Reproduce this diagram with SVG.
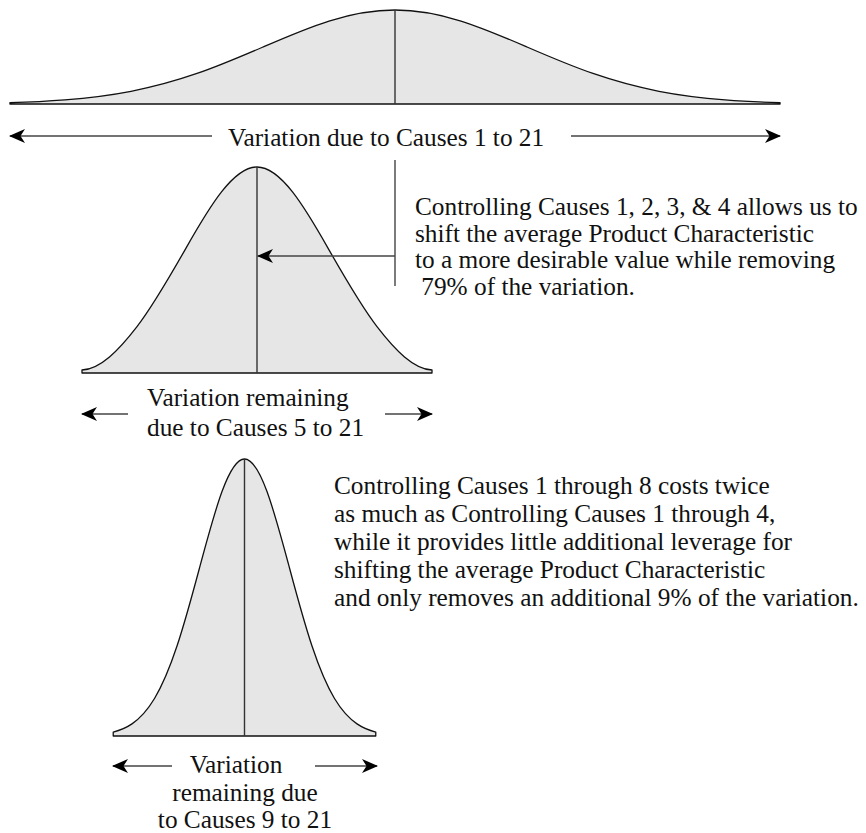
<svg xmlns="http://www.w3.org/2000/svg" width="866" height="833" viewBox="0 0 866 833">
<style>
.bg{fill:#ffffff}
.curve{fill:#e6e6e6;stroke:#111;stroke-width:1.3;vector-effect:non-scaling-stroke;stroke-linejoin:round}
.axis{stroke:#333;stroke-width:1.4;fill:none}
.conn{stroke:#444;stroke-width:1.4;fill:none}
.t{font-family:"Liberation Serif","Times New Roman",serif;font-size:25.3px;fill:#111}
</style>
<defs>
<marker id="ah" markerUnits="userSpaceOnUse" markerWidth="16" markerHeight="14" refX="15" refY="7" orient="auto-start-reverse" viewBox="0 0 16 14">
<path d="M0,0 L16,7 L0,14 L4.5,7 Z" fill="#000"/>
</marker>
</defs>
<rect class="bg" x="0" y="0" width="866" height="833"/>

<g id="curve-all">
<path class="curve" vector-effect="non-scaling-stroke" transform="translate(395 104) scale(132 -94)" d="M -2.917 0 L -2.917 .0142 C -2.778 .0200 -2.639 .0286 -2.5 .0439 C -2.3333 .0622 -2.1667 .0902 -2 .1353 C -1.8333 .1804 -1.6667 .2435 -1.5 .3247 C -1.3333 .4059 -1.1667 .5054 -1 .6065 C -.8333 .7076 -.6667 .8090 -.5 .8825 C -.3333 .9560 -.1667 1 0 1 C .1667 1 .3333 .9560 .5 .8825 C .6667 .8090 .8333 .7076 1 .6065 C 1.1667 .5054 1.3333 .4059 1.5 .3247 C 1.6667 .2435 1.8333 .1804 2 .1353 C 2.1667 .0902 2.3333 .0622 2.5 .0439 C 2.639 .0286 2.778 .0200 2.917 .0142 L 2.917 0 Z"/>
<line class="axis" x1="395" y1="10" x2="395" y2="104"/>
</g>

<g id="curve-1to4">
<path class="curve" d="M 82 373 L 82 370 C 100.33 369.1 118.67 350.4 137 326.6 C 153.33 305.4 169.67 276.8 186 248.1 C 209.67 206.4 233.33 167 257 167 C 280.67 167 304.33 206.4 328 248.1 C 344.33 276.8 360.67 305.4 377 326.6 C 395.33 350.4 413.67 369.1 432 370 L 432 373 Z"/>
<line class="axis" x1="257" y1="167" x2="257" y2="373"/>
</g>

<g id="curve-1to8">
<path class="curve" vector-effect="non-scaling-stroke" transform="translate(244.5 736) scale(45 -277)" d="M -2.917 0 L -2.917 .0142 C -2.778 .0200 -2.639 .0286 -2.5 .0439 C -2.3333 .0622 -2.1667 .0902 -2 .1353 C -1.8333 .1804 -1.6667 .2435 -1.5 .3247 C -1.3333 .4059 -1.1667 .5054 -1 .6065 C -.8333 .7076 -.6667 .8090 -.5 .8825 C -.3333 .9560 -.1667 1 0 1 C .1667 1 .3333 .9560 .5 .8825 C .6667 .8090 .8333 .7076 1 .6065 C 1.1667 .5054 1.3333 .4059 1.5 .3247 C 1.6667 .2435 1.8333 .1804 2 .1353 C 2.1667 .0902 2.3333 .0622 2.5 .0439 C 2.639 .0286 2.778 .0200 2.917 .0142 L 2.917 0 Z"/>
<line class="axis" x1="244.5" y1="459" x2="244.5" y2="736"/>
</g>

<g id="connectors">
<line class="conn" x1="212" y1="136" x2="10" y2="136" marker-end="url(#ah)"/>
<line class="conn" x1="571" y1="136" x2="780" y2="136" marker-end="url(#ah)"/>
<polyline class="conn" points="395,160 395,286"/>
<line class="conn" x1="395" y1="256" x2="258" y2="256" marker-end="url(#ah)"/>
<line class="conn" x1="128" y1="414" x2="82" y2="414" marker-end="url(#ah)"/>
<line class="conn" x1="385" y1="414" x2="432" y2="414" marker-end="url(#ah)"/>
<line class="conn" x1="172" y1="766" x2="113" y2="766" marker-end="url(#ah)"/>
<line class="conn" x1="315" y1="766" x2="377" y2="766" marker-end="url(#ah)"/>
</g>

<g id="label-all">
<text class="t" x="228" y="146">Variation due to Causes 1 to 21</text>
</g>

<g id="label-5to21">
<text class="t" x="147" y="406">Variation remaining</text>
<text class="t" x="147" y="436">due to Causes 5 to 21</text>
</g>

<g id="label-9to21">
<text class="t" x="236" y="773" text-anchor="middle">Variation</text>
<text class="t" x="245" y="801" text-anchor="middle">remaining due</text>
<text class="t" x="245" y="828" text-anchor="middle">to Causes 9 to 21</text>
</g>

<g id="note-1to4">
<text class="t" x="415" y="215">Controlling Causes 1, 2, 3, &amp; 4 allows us to</text>
<text class="t" x="415" y="242">shift the average Product Characteristic</text>
<text class="t" x="415" y="268">to a more desirable value while removing</text>
<text class="t" x="415" y="295" xml:space="preserve"> 79% of the variation.</text>
</g>

<g id="note-1to8">
<text class="t" x="334" y="494">Controlling Causes 1 through 8 costs twice</text>
<text class="t" x="334" y="522">as much as Controlling Causes 1 through 4,</text>
<text class="t" x="334" y="550">while it provides little additional leverage for</text>
<text class="t" x="334" y="578">shifting the average Product Characteristic</text>
<text class="t" x="334" y="606">and only removes an additional 9% of the variation.</text>
</g>
</svg>
